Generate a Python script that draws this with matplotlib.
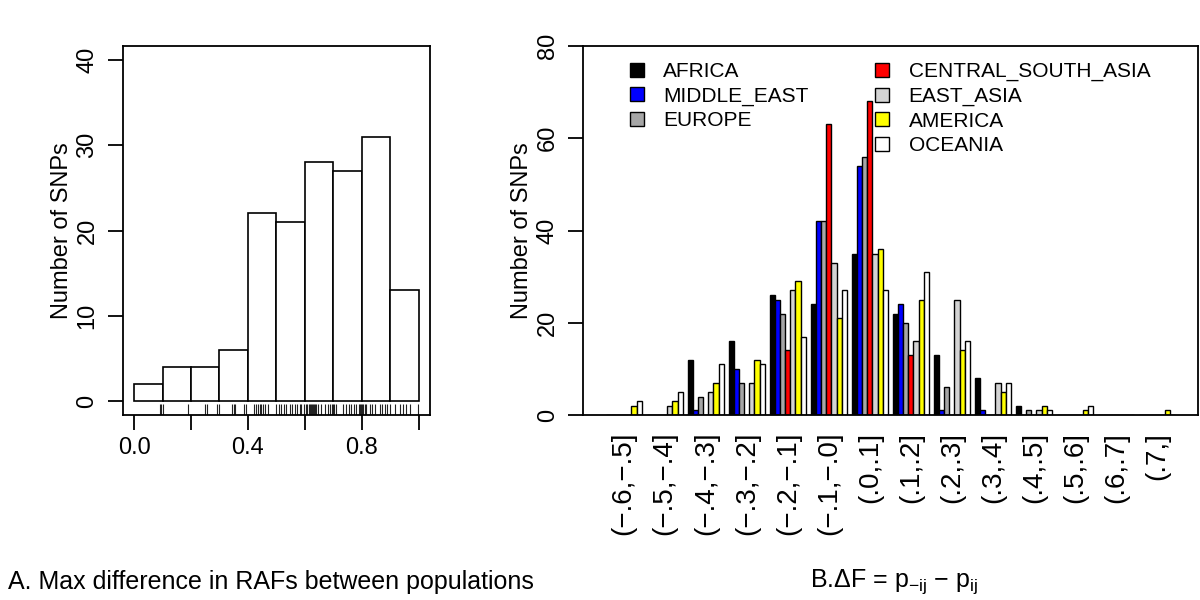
import matplotlib
matplotlib.use("Agg")
import matplotlib.pyplot as plt
from matplotlib.patches import Patch
import matplotlib.transforms as mtransforms

plt.rcParams['font.family'] = ['Liberation Sans', 'DejaVu Sans']
plt.rcParams['mathtext.fontset'] = 'custom'
plt.rcParams['mathtext.rm'] = 'Liberation Sans'
plt.rcParams['mathtext.it'] = 'Liberation Sans:italic'

# ---------------- data: panel A ----------------
hist_edges = [0.0, 0.1, 0.2, 0.3, 0.4, 0.5, 0.6, 0.7, 0.8, 0.9, 1.0]
hist_counts = [2, 4, 4, 6, 22, 21, 28, 27, 31, 13]
rug_values = [0.090, 0.096, 0.103, 0.190, 0.249, 0.258, 0.292, 0.298, 0.344, 0.350,
              0.356, 0.388, 0.395, 0.421, 0.429, 0.435, 0.442, 0.447, 0.453, 0.461,
              0.470, 0.500, 0.508, 0.517, 0.527, 0.535, 0.547, 0.555, 0.564, 0.574,
              0.582, 0.588, 0.597, 0.605, 0.609, 0.613, 0.617, 0.621, 0.625, 0.629,
              0.633, 0.637, 0.641, 0.646, 0.658, 0.670, 0.680, 0.688, 0.696, 0.700,
              0.703, 0.708, 0.734, 0.746, 0.754, 0.764, 0.773, 0.781, 0.789, 0.793,
              0.797, 0.802, 0.806, 0.811, 0.816, 0.828, 0.836, 0.846, 0.863, 0.871,
              0.881, 0.890, 0.898, 0.916, 0.933, 0.945, 0.957, 0.968, 0.997]
a_xticks = [0.0, 0.2, 0.4, 0.6, 0.8, 1.0]
a_xticklabels = ['0.0', '', '0.4', '', '0.8', '']
a_yticks = [0, 10, 20, 30, 40]

# ---------------- data: panel B ----------------
categories = ['(\u2212.6,\u2212.5]', '(\u2212.5,\u2212.4]', '(\u2212.4,\u2212.3]',
              '(\u2212.3,\u2212.2]', '(\u2212.2,\u2212.1]', '(\u2212.1,\u2212.0]',
              '(.0,.1]', '(.1,.2]', '(.2,.3]', '(.3,.4]', '(.4,.5]', '(.5,.6]',
              '(.6,.7]', '(.7,]']
series_names = ['AFRICA', 'MIDDLE_EAST', 'EUROPE', 'CENTRAL_SOUTH_ASIA',
                'EAST_ASIA', 'AMERICA', 'OCEANIA']
africa = [0, 0, 12, 16, 26, 24, 35, 22, 13, 8, 2, 0, 0, 0]
middle_east = [0, 0, 1, 10, 25, 42, 54, 24, 1, 1, 0, 0, 0, 0]
europe = [0, 0, 4, 7, 22, 42, 56, 20, 6, 0, 1, 0, 0, 0]
central_south_asia = [0, 0, 0, 0, 14, 63, 68, 13, 0, 0, 0, 0, 0, 0]
east_asia = [0, 2, 5, 7, 27, 33, 35, 16, 25, 7, 1, 0, 0, 0]
america = [2, 3, 7, 12, 29, 21, 36, 25, 14, 5, 2, 1, 0, 1]
oceania = [3, 5, 11, 11, 17, 27, 27, 31, 16, 7, 1, 2, 0, 0]
series_values = [africa, middle_east, europe, central_south_asia, east_asia, america, oceania]
series_colors = ['black', '#0000FF', '#A6A6A6', '#FF0000', '#D3D3D3', '#FFFF00', 'white']
b_yticks = [0, 20, 40, 60, 80]

TICK_FS = 17
CAT_FS = 20
W, H = 1200, 600

fig = plt.figure(figsize=(12, 6), dpi=100)

def px_axes(l, t, r, b):
    return fig.add_axes([l / W, (H - b) / H, (r - l) / W, (b - t) / H])

# ---------------- panel A ----------------
ax1 = px_axes(122.7, 46, 430, 415)
widths = [hist_edges[i + 1] - hist_edges[i] for i in range(len(hist_counts))]
ax1.bar(hist_edges[:-1], hist_counts, width=widths, align='edge',
        facecolor='white', edgecolor='black', linewidth=1.2)
trans = mtransforms.blended_transform_factory(ax1.transData, ax1.transAxes)
ax1.vlines(rug_values, 0, 0.03, transform=trans, color='#222222', linewidth=0.8)
ax1.set_xlim(-0.04, 1.04)
ax1.set_ylim(-1.6, 41.6)
ax1.set_xticks(a_xticks)
ax1.set_xticklabels(a_xticklabels)
ax1.set_yticks(a_yticks)
ax1.set_yticklabels([str(v) for v in a_yticks])

# ---------------- panel B ----------------
ax2 = px_axes(583, 46, 1197.7, 415)
n_series = len(series_names)
group_w = n_series + 1
for j, (vals, col, name) in enumerate(zip(series_values, series_colors, series_names)):
    xs = [group_w * i + 1 + j + 0.5 for i in range(len(categories))]
    ax2.bar(xs, vals, width=1.0, facecolor=col, edgecolor='black', linewidth=1.0,
            label=name)
centers = [group_w * i + 1 + n_series / 2 for i in range(len(categories))]
total = group_w * len(categories)
span = total - 1
ax2.set_xlim(1 - 0.04 * span, total + 0.04 * span)
ax2.set_ylim(0, 80)
ax2.set_yticks(b_yticks)
ax2.set_yticklabels([str(v) for v in b_yticks])
ax2.set_xticks(centers)
ax2.set_xticklabels(categories, rotation=90, va='top', ha='center', fontsize=CAT_FS)
ax2.tick_params(axis='x', length=0, pad=12)

for ax in (ax1, ax2):
    for s in ax.spines.values():
        s.set_linewidth(1.3)
    ax.tick_params(axis='y', length=10.5, width=1.3, pad=7, labelsize=TICK_FS)
    for lbl in ax.get_yticklabels():
        lbl.set_rotation(90)
        lbl.set_va('center')
        lbl.set_ha('right')
ax1.tick_params(axis='x', length=10.5, width=1.3, pad=5, labelsize=TICK_FS)

# y labels
fig.text(62 / W, 1 - 230.5 / H, 'Number of SNPs', rotation=90, ha='center',
         va='center', fontsize=TICK_FS)
fig.text(522 / W, 1 - 230.5 / H, 'Number of SNPs', rotation=90, ha='center',
         va='center', fontsize=TICK_FS)

# legend (3 entries in first column, 4 in second)
handles = [Patch(facecolor=c, edgecolor='black', linewidth=1.0) for c in series_colors]
labels = list(series_names)
blank = Patch(facecolor='none', edgecolor='none')
handles = handles[:3] + [blank] + handles[3:]
labels = labels[:3] + [''] + labels[3:]
ax2.legend(handles, labels, ncol=2, loc='upper left', frameon=False,
           bbox_to_anchor=(630 / W, 1 - 62 / H), bbox_transform=fig.transFigure,
           fontsize=15, handlelength=0.65, handleheight=0.65, handletextpad=0.95,
           labelspacing=0.27, columnspacing=3.2, borderpad=0, borderaxespad=0)

# captions
fig.text(8 / W, 1 - 582 / H, 'A. Max difference in RAFs between populations',
         ha='left', va='center', fontsize=18)
fig.text(810 / W, 1 - 582 / H,
         r'B.$\Delta$F = p$_{\mathrm{-ij}}$ $-$ p$_{\mathrm{ij}}$',
         ha='left', va='center', fontsize=18)

fig.savefig('out.png', dpi=100)
